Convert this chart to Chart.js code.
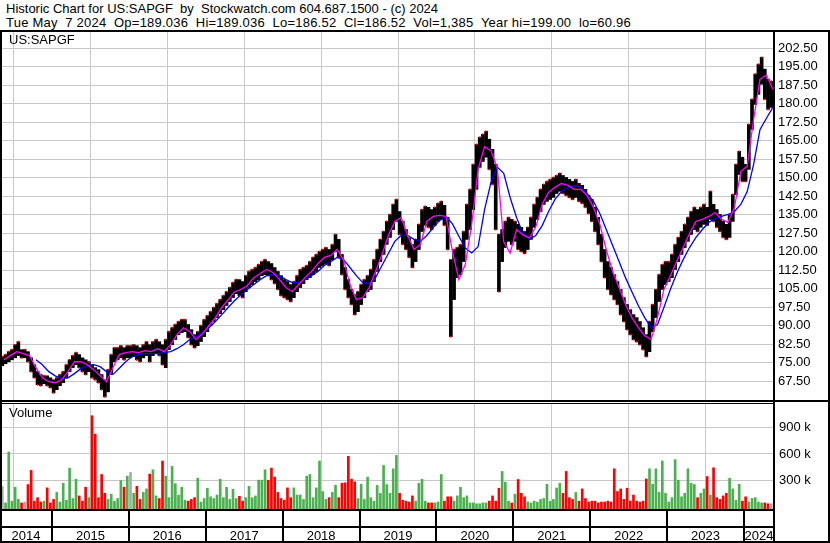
<!DOCTYPE html>
<html><head><meta charset="utf-8">
<script src="https://cdn.jsdelivr.net/npm/chart.js@4.4.1/dist/chart.umd.min.js"></script>
<style>
html,body{margin:0;padding:0;background:#fff;}
#wrap{position:relative;width:830px;height:543px;overflow:hidden;font-family:"Liberation Sans",Arial,sans-serif;color:#000;}
.t{position:absolute;left:5px;font-size:13px;white-space:pre;line-height:14px;}
.ln{position:absolute;background:#000;}
canvas{position:absolute;left:0;}
</style></head><body>
<div id="wrap">
<div class="t" style="top:2px;left:6px">Historic Chart for US:SAPGF  by  Stockwatch.com 604.687.1500 - (c) 2024</div>
<div class="t" style="top:16px;left:6px;letter-spacing:0.22px">Tue May  7 2024  Op=189.036  Hi=189.036  Lo=186.52  Cl=186.52  Vol=1,385  Year hi=199.00  lo=60.96</div>
<canvas id="pc" width="830" height="368" style="top:32px"></canvas>
<canvas id="vc" width="830" height="141" style="top:402px"></canvas>
<div class="t" style="top:33px;left:9px">US:SAPGF</div>
<div class="t" style="top:406px;left:9px">Volume</div>
<div class="ln" style="left:0;top:30px;width:830px;height:2px"></div>
<div class="ln" style="left:0;top:30px;width:2px;height:513px"></div>
<div class="ln" style="left:828px;top:30px;width:2px;height:513px"></div>
<div class="ln" style="left:0;top:541px;width:830px;height:2px"></div>
<div class="ln" style="left:773px;top:30px;width:2px;height:513px"></div>
<div class="ln" style="left:0;top:400px;width:830px;height:2px"></div>
<div class="ln" style="left:0;top:403px;width:774px;height:1px"></div>
<div class="ln" style="left:0;top:509px;width:774px;height:2px"></div>
<div class="ln" style="left:0;top:526px;width:774px;height:2px"></div>
</div>
<script>
// ---- data (semi-monthly periods starting May 2014) ----
const firstPeriod = {year: 2014, month: 5};
const yearLabels = [2014,2015,2016,2017,2018,2019,2020,2021,2022,2023,2024];
const priceTicks = [67.5,75,82.5,90,97.5,105,112.5,120,127.5,135,142.5,150,157.5,165,172.5,180,187.5,195,202.5];
const volTicks = [300000,600000,900000];

const periodHigh = [
77.5,78.3,79.5,80.3,82.3,83.5,80.3,80.3,79.5,77.0,74.2,71.4,70.2,69.7,69.7,68.9,
68.1,68.9,70.2,71.4,74.2,76.2,77.9,79.1,78.3,77.0,76.2,75.4,74.2,73.0,72.2,70.2,68.1,72.2,78.3,81.1,81.1,81.9,81.1,81.9,
81.9,82.3,81.9,81.1,82.3,83.5,82.3,83.5,84.4,83.5,82.3,84.4,87.6,89.2,90.5,91.7,92.5,92.5,90.5,88.4,86.4,87.6,90.1,92.5,
94.1,95.7,97.4,99.0,100.6,102.2,103.8,105.5,107.5,108.7,108.7,107.9,110.3,112.0,112.8,113.6,114.8,116.0,116.8,116.0,115.2,113.6,112.0,110.3,
108.7,107.9,106.7,107.9,110.3,112.8,113.6,114.4,116.0,117.7,118.9,120.1,120.9,121.7,120.9,122.9,127.0,125.0,118.9,113.6,108.7,104.7,102.6,103.8,
106.7,108.7,110.3,112.8,116.8,120.9,125.0,128.2,132.3,135.1,139.2,141.2,136.3,132.3,129.0,125.8,122.9,125.0,131.1,137.1,138.4,138.0,137.1,138.0,
139.6,140.4,138.8,133.9,116.8,120.9,121.7,122.9,128.2,139.2,145.3,155.4,163.5,166.4,167.6,168.8,165.6,161.5,155.4,127.0,129.0,132.3,133.9,133.1,
132.3,131.1,129.9,128.2,129.9,133.9,139.2,142.0,145.3,147.3,148.5,149.3,150.1,150.9,151.8,150.9,150.1,149.3,148.5,149.3,147.7,146.9,145.3,142.8,
141.2,138.0,133.9,127.0,120.9,116.0,113.6,110.7,107.9,104.7,101.4,98.6,96.5,94.5,93.3,91.7,89.2,86.4,91.7,98.6,104.7,110.7,114.8,116.0,
116.0,118.9,122.9,125.8,128.2,131.1,133.9,136.3,138.0,137.1,138.0,139.2,138.0,144.5,139.2,137.1,135.1,132.3,131.1,135.1,143.2,155.4,160.7,158.3,
155.4,171.6,181.8,192.0,196.0,198.8,194.0,189.9,189.1];
const periodLow = [
73.8,74.6,75.4,76.2,77.0,77.9,77.0,77.0,75.4,71.4,68.9,66.1,65.7,66.5,65.7,64.9,
62.8,64.1,65.7,66.9,68.9,71.4,73.0,74.2,73.0,71.4,70.2,71.4,68.9,68.1,66.9,64.1,61.2,63.2,70.2,75.4,76.2,77.0,76.2,77.0,
77.0,77.5,76.2,75.4,77.0,77.9,75.4,77.9,78.7,77.9,74.2,73.0,80.3,82.3,84.4,86.4,87.2,87.6,85.2,82.3,81.1,81.9,83.6,85.6,
87.6,90.1,91.7,93.3,94.9,96.5,98.2,99.8,101.4,103.0,102.2,101.4,103.8,105.5,106.7,107.9,108.7,110.3,110.7,110.3,108.7,107.1,104.7,102.2,
101.4,100.6,99.8,101.4,103.8,105.5,107.1,108.7,109.5,110.7,112.0,113.6,114.4,115.2,114.4,116.8,120.1,117.7,110.7,104.7,101.4,98.6,94.5,95.7,
98.6,101.4,103.8,104.7,107.9,112.0,116.0,118.9,123.0,125.8,129.0,132.3,127.0,123.0,120.9,117.7,113.6,116.0,120.9,128.2,130.7,129.9,129.0,130.7,
132.3,133.1,130.7,120.9,85.6,100.6,109.5,110.7,116.0,125.0,129.0,137.1,145.3,154.2,156.6,158.3,153.4,147.3,129.0,103.8,116.0,121.7,124.2,122.9,
124.2,120.9,120.1,119.3,120.9,125.0,129.9,133.1,136.3,139.2,140.4,141.2,142.0,143.6,144.5,143.6,142.8,142.0,141.2,142.0,140.4,139.6,138.0,135.5,
132.3,128.2,122.9,116.0,109.5,104.7,102.6,100.6,98.6,94.5,91.7,88.4,86.4,84.4,83.5,82.3,80.3,77.5,79.5,87.6,93.3,99.8,104.7,106.7,
107.9,109.5,112.8,116.0,118.9,121.7,124.2,127.0,129.0,128.2,129.9,131.1,130.7,133.1,132.3,129.9,128.2,125.8,125.0,125.8,132.3,143.2,151.3,148.5,
148.5,153.4,169.6,179.7,183.8,187.9,181.8,177.7,178.5];
// monthly moving averages (May 2014 .. May 2024)
const shortAvg = [
76.2,77.9,79.5,78.7,77.9,73.0,68.9,67.3,66.9,68.1,
71.4,75.4,75.4,74.2,72.2,69.7,67.3,73.0,78.3,79.1,
79.5,79.1,79.9,79.5,80.7,79.5,82.3,86.4,89.2,87.6,
84.4,86.8,90.1,93.3,97.4,100.6,103.8,104.7,106.3,109.5,
111.2,112.8,111.6,108.7,105.5,103.8,106.7,109.5,112.0,115.2,
117.7,118.5,120.9,116.8,106.7,100.6,101.4,105.5,112.0,118.9,
126.6,132.3,133.9,126.6,120.9,122.9,132.3,134.3,134.7,134.3,
120.1,108.7,114.8,131.1,153.4,162.6,161.0,154.0,124.0,119.5,
129.0,126.8,125.6,130.0,139.2,144.0,146.1,147.7,146.9,145.3,
145.3,142.8,138.0,131.1,120.9,112.0,105.5,98.6,93.3,89.2,
85.9,84.4,93.3,104.7,110.3,116.0,121.7,127.4,132.3,133.1,
134.3,135.9,133.1,131.9,137.9,152.6,154.6,173.7,190.0,191.6,
185.9];
const longAvg = [
null,null,null,null,null,
76.2,74.2,71.4,69.7,68.5,68.9,70.6,72.6,73.8,74.2,
73.4,71.4,70.2,72.8,75.4,77.5,78.3,78.7,78.7,78.7,
79.1,79.5,80.7,82.3,84.4,85.6,87.2,89.2,91.7,94.5,
97.4,100.2,102.6,104.7,106.7,108.7,110.3,110.7,110.3,108.7,
107.5,107.5,108.7,110.3,112.0,114.4,116.0,117.7,116.8,113.6,
110.3,107.5,107.1,109.5,114.4,119.3,124.2,126.6,126.6,125.0,
124.2,126.6,129.8,132.7,134.3,131.3,126.3,121.5,119.5,122.0,
137.0,148.0,154.3,151.8,142.0,133.9,127.4,125.0,126.6,130.6,
136.3,141.2,144.4,146.1,146.9,146.1,143.6,140.4,135.5,129.0,
122.5,116.0,109.5,103.8,98.2,93.3,89.2,90.5,97.4,104.7,
111.2,116.8,121.7,125.8,129.0,131.9,133.5,134.3,135.1,136.3,
139.2,144.4,155.4,169.6,174.1,178.5];
// peak volume per semi-monthly period, thousands of shares
const periodVolume = [
227,40,623,60,219,80,40,50,250,412,60,100,50,60,212,40,
80,160,50,265,70,438,90,311,120,60,219,100,1038,827,100,365,150,80,140,60,90,296,220,346,
388,150,230,80,160,200,370,419,120,90,519,346,100,458,260,130,219,70,60,80,100,323,50,90,
208,110,90,130,311,100,219,80,196,90,115,60,100,230,100,120,300,300,419,300,438,335,160,90,
70,212,100,212,130,130,80,346,365,100,212,519,170,80,100,160,242,100,265,270,573,311,280,90,
254,80,335,100,60,240,150,469,250,150,430,584,150,70,60,50,120,60,265,311,60,40,40,40,
50,365,60,110,110,60,120,219,100,120,40,40,30,30,40,40,60,120,60,208,400,277,60,40,
140,308,150,110,50,40,60,50,80,90,254,60,80,210,265,150,400,100,80,160,60,200,90,50,
60,60,40,50,50,60,50,430,170,200,80,208,60,130,60,50,60,315,430,254,430,160,519,150,
50,100,535,300,110,150,430,265,250,100,150,200,342,130,442,100,80,120,150,323,200,70,254,60,
110,50,90,100,50,40,40,30,30];

// ---- derived ----
const base = firstPeriod.year + (firstPeriod.month - 1) / 12;
const pDate = i => base + (i + 0.5) / 24;
const mDate = j => base + (j + 0.5) / 12;
const mid = periodHigh.map((h, i) => (h + periodLow[i]) / 2);
const dir = mid.map((m, i) => i === 0 ? 0 : Math.sign(m - mid[i - 1]));

const X_MIN = 2014.3238, X_MAX = 2024.390;
const FONT = '"Liberation Sans", Arial, sans-serif';
Chart.defaults.font.family = FONT;
Chart.defaults.font.size = 13;
Chart.defaults.color = '#000';

const yearGrid = yearLabels.filter(y => y > X_MIN && y < X_MAX);
const GRID = '#c8c8c8';
const noPad = s => { s.paddingTop = 0; s.paddingBottom = 0; s.paddingLeft = 0; s.paddingRight = 0; };

const xScale = () => ({
  type: 'linear', min: X_MIN, max: X_MAX, offset: false,
  afterBuildTicks: s => { s.ticks = yearGrid.map(v => ({value: v})); },
  afterFit: s => { s.height = 0; noPad(s); },
  ticks: {display: false},
  grid: {color: GRID, drawTicks: false, lineWidth: 1},
  border: {display: false}
});

new Chart(document.getElementById('pc'), {
  type: 'bar',
  data: {
    datasets: [
      {type: 'line', data: shortAvg.map((v, j) => ({x: mDate(j), y: v})),
       borderColor: '#ff00ff', borderWidth: 1.3, pointRadius: 0, tension: 0, order: 0},
      {type: 'line', data: longAvg.map((v, j) => ({x: mDate(j), y: v})),
       borderColor: '#0000ff', borderWidth: 1.3, pointRadius: 0, tension: 0, order: 0, spanGaps: false},
      {type: 'line', showLine: false, order: 1,
       data: periodHigh.map((h, i) => ({x: pDate(i), y: dir[i] < 0 ? periodLow[i] : h})),
       pointStyle: 'rect', pointRadius: 1.2, pointBorderWidth: 0, backgroundColor: '#ff0000', borderColor: '#ff0000'},
      {type: 'bar', order: 2, data: periodHigh.map((h, i) => ({x: pDate(i), y: [periodLow[i], h]})),
       backgroundColor: '#000', barThickness: 3, grouped: false}
    ]
  },
  options: {
    responsive: false, animation: false, devicePixelRatio: 1,
    layout: {padding: 0, autoPadding: false},
    plugins: {legend: {display: false}, tooltip: {enabled: false}},
    scales: {
      x: xScale(),
      y: {
        position: 'right', min: 59.9, max: 209.07,
        afterBuildTicks: s => { s.ticks = priceTicks.map(v => ({value: v})); },
        afterFit: s => { s.width = 56; noPad(s); },
        ticks: {padding: 4, callback: v => Number(v).toFixed(2), font: {size: 13, family: FONT}},
        grid: {color: GRID, drawTicks: false},
        border: {display: false}
      }
    }
  }
});

const VOL_MIN = -29800, VOL_MAX = 1172000;
const yearRow = {
  id: 'yearRow',
  afterDraw(chart) {
    const ctx = chart.ctx, xs = chart.scales.x, a = chart.chartArea;
    ctx.save();
    ctx.fillStyle = '#000';
    yearGrid.forEach(y => {
      const px = Math.round(xs.getPixelForValue(y));
      ctx.fillRect(px - 1, 107, 2, 34);
    });
    ctx.font = '13px ' + FONT;
    ctx.textAlign = 'center';
    ctx.textBaseline = 'alphabetic';
    yearLabels.forEach(y => {
      const l = Math.max(a.left, xs.getPixelForValue(y));
      const r = Math.min(a.right, xs.getPixelForValue(y + 1));
      if (r - l > 10) ctx.fillText(String(y), (l + r) / 2, 138);
    });
    ctx.restore();
  }
};

new Chart(document.getElementById('vc'), {
  type: 'bar',
  data: {
    datasets: [{
      data: periodVolume.map((v, i) => ({x: pDate(i), y: v * 1000})),
      backgroundColor: dir.map(d => d > 0 ? '#4cb050' : d < 0 ? '#ff0000' : '#a8a8a8'),
      barThickness: 2, base: VOL_MIN
    }]
  },
  options: {
    responsive: false, animation: false, devicePixelRatio: 1,
    layout: {padding: {top: 2, bottom: 34, left: 0, right: 0}, autoPadding: false},
    plugins: {legend: {display: false}, tooltip: {enabled: false}},
    scales: {
      x: xScale(),
      y: {
        position: 'right', min: VOL_MIN, max: VOL_MAX,
        afterBuildTicks: s => { s.ticks = volTicks.map(v => ({value: v})); },
        afterFit: s => { s.width = 56; noPad(s); },
        ticks: {padding: 5, callback: v => (v / 1000) + ' k', font: {size: 13, family: FONT}},
        grid: {color: GRID, drawTicks: false},
        border: {display: false}
      }
    }
  },
  plugins: [yearRow]
});
</script>
</body></html>
